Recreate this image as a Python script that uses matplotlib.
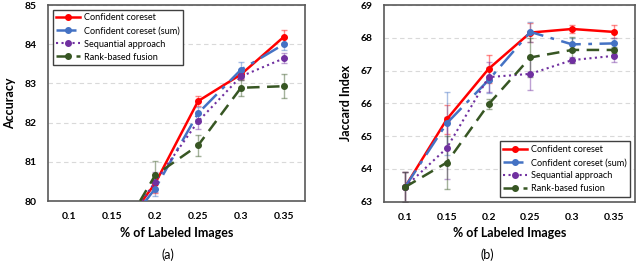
import matplotlib.pyplot as plt
import numpy as np

plt.rcParams['font.family'] = ['Lato', 'DejaVu Sans']

x_labels = ['0.1', '0.15', '0.2', '0.25', '0.3', '0.35']
series_names = ['Confident coreset', 'Confident coreset (sum)',
                'Sequantial approach', 'Rank-based fusion']

# (a) accuracy -- first two points sit below the visible range
acc_conf = [77.6, 78.97, 80.45, 82.55, 83.23, 84.19]
acc_sum = [77.5, 78.9, 80.32, 82.24, 83.35, 84.0]
acc_seq = [77.5, 78.9, 80.49, 82.03, 83.18, 83.64]
acc_rank = [77.4, 78.8, 80.66, 81.42, 82.89, 82.93]
acc_conf_err = [0.2, 0.2, 0.25, 0.13, 0.12, 0.17]
acc_sum_err = [0.2, 0.2, 0.2, 0.15, 0.2, 0.15]
acc_seq_err = [0.2, 0.2, 0.25, 0.2, 0.1, 0.13]
acc_rank_err = [0.2, 0.2, 0.35, 0.27, 0.2, 0.31]

# (b) jaccard index
jac_conf = [63.44, 65.51, 67.05, 68.16, 68.27, 68.18]
jac_sum = [63.44, 65.39, 66.71, 68.18, 67.8, 67.83]
jac_seq = [63.44, 64.63, 66.8, 66.9, 67.32, 67.45]
jac_rank = [63.44, 64.19, 65.97, 67.4, 67.63, 67.63]
jac_conf_err = [0.45, 0.45, 0.43, 0.3, 0.13, 0.2]
jac_sum_err = [0.45, 0.97, 0.4, 0.3, 0.2, 0.15]
jac_seq_err = [0.45, 0.95, 0.45, 0.5, 0.1, 0.2]
jac_rank_err = [0.45, 0.8, 0.15, 0.6, 0.4, 0.1]

colors = ['#ff0000', '#4472c4', '#7030a0', '#375623']
styles = ['-', (0, (8, 3, 1.5, 3)), ':', (0, (5, 3))]
widths = [1.8, 1.8, 1.5, 1.8]


def draw(ax, values, errors, ylim, ylabel, legend_loc):
    xs = np.arange(len(x_labels))
    for i, (v, e) in enumerate(zip(values, errors)):
        ax.errorbar(xs, v, yerr=e, fmt='none', ecolor=colors[i], alpha=0.45,
                    elinewidth=1, capsize=2, zorder=2)
        ax.plot(xs, v, color=colors[i], linestyle=styles[i], lw=widths[i],
                marker='o', ms=4, label=series_names[i], zorder=3)
    ax.set_xlim(-0.5, len(x_labels) - 0.5)
    ax.set_ylim(*ylim)
    ax.set_xticks(xs)
    ax.set_xticklabels(x_labels, fontweight='bold', fontsize=7.5)
    ax.set_yticks(np.arange(ylim[0], ylim[1] + 1))
    ax.set_yticklabels([str(t) for t in range(ylim[0], ylim[1] + 1)],
                       fontweight='bold', fontsize=7.5)
    ax.tick_params(length=0, pad=8)
    ax.yaxis.grid(True, linestyle=(0, (4, 3)), color='#d9d9d9', lw=0.8)
    ax.set_axisbelow(True)
    for s in ax.spines.values():
        s.set_color('#595959')
        s.set_linewidth(1.2)
    ax.set_xlabel('% of Labeled Images', fontweight='bold', fontsize=9, labelpad=4)
    ax.set_ylabel(ylabel, fontweight='bold', fontsize=9, labelpad=6)
    leg = ax.legend(loc=legend_loc, fontsize=6.6, fancybox=False, framealpha=1,
                    edgecolor='#404040', handlelength=2.6, borderpad=0.4,
                    labelspacing=0.45, handletextpad=0.4, borderaxespad=0.5)
    leg.get_frame().set_linewidth(1.0)


fig = plt.figure(figsize=(6.4, 2.67), dpi=100)
ax1 = fig.add_axes([0.075, 0.247, 0.402, 0.734])
ax2 = fig.add_axes([0.6, 0.245, 0.392, 0.736])

draw(ax1, [acc_conf, acc_sum, acc_seq, acc_rank],
     [acc_conf_err, acc_sum_err, acc_seq_err, acc_rank_err],
     (80, 85), 'Accuracy', 'upper left')
draw(ax2, [jac_conf, jac_sum, jac_seq, jac_rank],
     [jac_conf_err, jac_sum_err, jac_seq_err, jac_rank_err],
     (63, 69), 'Jaccard Index', 'lower right')

fig.text(0.262, 0.045, '(a)', ha='center', va='center', fontsize=9)
fig.text(0.762, 0.045, '(b)', ha='center', va='center', fontsize=9)

fig.savefig('out.png', dpi=100)
